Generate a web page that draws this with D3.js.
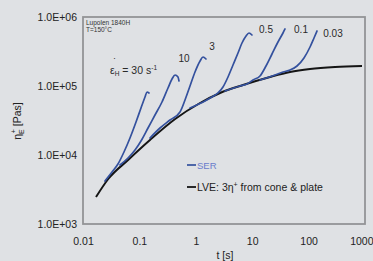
<!DOCTYPE html>
<html><head><meta charset="utf-8">
<script src="https://cdn.jsdelivr.net/npm/d3@7"></script>
<style>
html,body{margin:0;padding:0;background:#dfe1e4;}
svg{display:block;font-family:"Liberation Sans",Arial,sans-serif;}
</style></head>
<body>
<svg id="c" width="373" height="261"></svg>
<script>
// ---- data ----
const xTicks = [0.01, 0.1, 1, 10, 100, 1000];
const yTicks = [1e3, 1e4, 1e5, 1e6];
const yTickLabels = ["1.0E+03", "1.0E+04", "1.0E+05", "1.0E+06"];

const lveT   = [0.017, 0.028, 0.063, 0.154, 0.43, 1.19, 2.69, 6.87, 20.7, 46.8, 106, 294, 885];
const lveEta = [2460, 4490, 8470, 16500, 33200, 56700, 79200, 103300, 135000, 159600, 176400, 188500, 195000];

const serRates = ["30", "10", "3", "0.5", "0.1", "0.03"];
const ser30T   = [0.0245, 0.0327, 0.0417, 0.0533, 0.0681, 0.0871, 0.1067, 0.1257, 0.1364, 0.148];
const ser30Eta = [4199, 5670, 7406, 11054, 17636, 30080, 47980, 69260, 81840, 79200];
const ser10T   = [0.0453, 0.0628, 0.0836, 0.1067, 0.1421, 0.189, 0.2516, 0.3214, 0.3785, 0.428, 0.4834, 0.5036];
const ser10Eta = [7164, 9049, 11815, 15958, 24620, 37990, 58620, 93540, 126300, 144300, 135000, 118200];
const ser3T    = [0.154, 0.232, 0.349, 0.5248, 0.6435, 0.789, 0.968, 1.19, 1.342, 1.517];
const ser3Eta  = [17636, 24620, 32150, 41990, 62670, 100000, 159600, 230300, 263200, 246200];
const ser05T   = [0.789, 1.456, 1.937, 2.476, 3.036, 3.724, 4.567, 5.60, 6.59, 7.77, 8.77, 9.91];
const ser05Eta = [47980, 60630, 69260, 79200, 96720, 135000, 201500, 300800, 419800, 530700, 586500, 548700];
const ser01T   = [3.296, 6.08, 8.09, 10.33, 13.75, 17.57, 22.44, 28.66, 35.16, 38.18];
const ser01Eta = [84630, 100000, 106900, 122200, 139600, 195000, 290900, 434000, 586500, 670200];
const ser003T  = [13.75, 25.36, 35.16, 46.8, 62.3, 82.8, 106, 124.7, 140.9];
const ser003Eta= [122200, 144300, 159600, 170500, 195000, 254600, 367400, 496400, 627000];

// ---- layout ----
const svg = d3.select("#c");
const L = 83, R = 365, T = 17, B = 224;
const x = d3.scaleLog().domain([0.01, 1000]).range([L, R]);
const y = d3.scaleLog().domain([1e3, 1e6]).range([B, T]);
const FONT = "Liberation Sans, Arial, sans-serif";

svg.append("rect").attr("width", 373).attr("height", 261).attr("fill", "#dfe1e4");
svg.append("rect").attr("x", L).attr("y", T).attr("width", R - L).attr("height", B - T)
  .attr("fill", "#dfe1e4").attr("stroke", "#939496").attr("stroke-width", 1.8);

// axes
const xa = svg.append("g").attr("transform", `translate(0,${B})`)
  .call(d3.axisBottom(x).tickValues(xTicks).tickSize(0).tickPadding(14)
    .tickFormat(d => d3.format("~g")(d)));
xa.select(".domain").remove();
xa.selectAll("text").attr("font-size", 10.5).attr("fill", "#222").attr("font-family", FONT);
xa.selectAll("text").filter(d => d === 1000).attr("text-anchor", "end").attr("dx", 8);

const ya = svg.append("g").attr("transform", `translate(${L},0)`)
  .call(d3.axisLeft(y).tickValues(yTicks).tickSize(0).tickPadding(6)
    .tickFormat((d, i) => yTickLabels[i]));
ya.select(".domain").remove();
ya.selectAll("text").attr("font-size", 10.5).attr("fill", "#222").attr("font-family", FONT);

// axis titles
svg.append("text").attr("x", 225).attr("y", 259).attr("text-anchor", "middle")
  .attr("font-size", 10.5).attr("fill", "#222").text("t [s]");
const yt = svg.append("text").attr("transform", "translate(21,121) rotate(-90)")
  .attr("text-anchor", "middle").attr("font-size", 10.5).attr("fill", "#222");
yt.append("tspan").text("η");
yt.append("tspan").attr("font-size", 7).attr("dy", 3).text("E");
yt.append("tspan").attr("font-size", 7).attr("dy", -8).attr("dx", -4).text("+");
yt.append("tspan").attr("dy", 5).text(" [Pas]");

// lines
const line = d3.line().x(d => x(d[0])).y(d => y(d[1])).curve(d3.curveMonotoneX);
const lve = lveT.map((t, i) => [t, lveEta[i]]);
const serSets = [[ser30T, ser30Eta], [ser10T, ser10Eta], [ser3T, ser3Eta],
                 [ser05T, ser05Eta], [ser01T, ser01Eta], [ser003T, ser003Eta]];

svg.append("path").datum(lve).attr("d", line).attr("fill", "none")
  .attr("stroke", "#151515").attr("stroke-width", 2);

serSets.forEach(([ts, es]) => {
  svg.append("path").datum(ts.map((t, i) => [t, es[i]])).attr("d", line)
    .attr("fill", "none").attr("stroke", "#34519e").attr("stroke-width", 1.7)
    .attr("stroke-linecap", "round");
});

// curve labels
const labelPos = [null, [184, 62], [212, 50], [266, 33], [301, 33], [333, 37]];
serRates.forEach((r, i) => {
  if (!labelPos[i]) return;
  svg.append("text").attr("x", labelPos[i][0]).attr("y", labelPos[i][1])
    .attr("text-anchor", "middle").attr("font-size", 10).attr("fill", "#2a2a2a").text(r);
});

// rate annotation 30 s^-1
svg.append("text").attr("x", 113).attr("y", 61).attr("font-size", 9).attr("fill", "#333").text("·");
const ann = svg.append("text").attr("x", 110).attr("y", 74).attr("font-size", 10.5).attr("fill", "#2a2a2a");
ann.append("tspan").text("ε");
ann.append("tspan").attr("font-size", 6.5).attr("dy", 2).text("H");
ann.append("tspan").attr("dy", -2).text(" = " + serRates[0] + " s");
ann.append("tspan").attr("font-size", 6.5).attr("dy", -4).text("-1");

// sample info
svg.append("text").attr("x", 86).attr("y", 25).attr("font-size", 6.5).attr("fill", "#333").text("Lupolen 1840H");
svg.append("text").attr("x", 86).attr("y", 32).attr("font-size", 6.5).attr("fill", "#333").text("T=150°C");

// legend
svg.append("line").attr("x1", 187).attr("x2", 196).attr("y1", 165).attr("y2", 165)
  .attr("stroke", "#34519e").attr("stroke-width", 1.7);
svg.append("text").attr("x", 197).attr("y", 168.5).attr("font-size", 9.5).attr("fill", "#6a7ccc").text("SER");
svg.append("line").attr("x1", 187).attr("x2", 196).attr("y1", 187).attr("y2", 187)
  .attr("stroke", "#151515").attr("stroke-width", 1.8);
const lg = svg.append("text").attr("x", 197).attr("y", 190.5).attr("font-size", 10.5).attr("fill", "#222");
lg.append("tspan").text("LVE: 3η");
lg.append("tspan").attr("font-size", 7).attr("dy", -4).text("+");
lg.append("tspan").attr("dy", 4).text(" from cone & plate");
</script>
</body></html>
